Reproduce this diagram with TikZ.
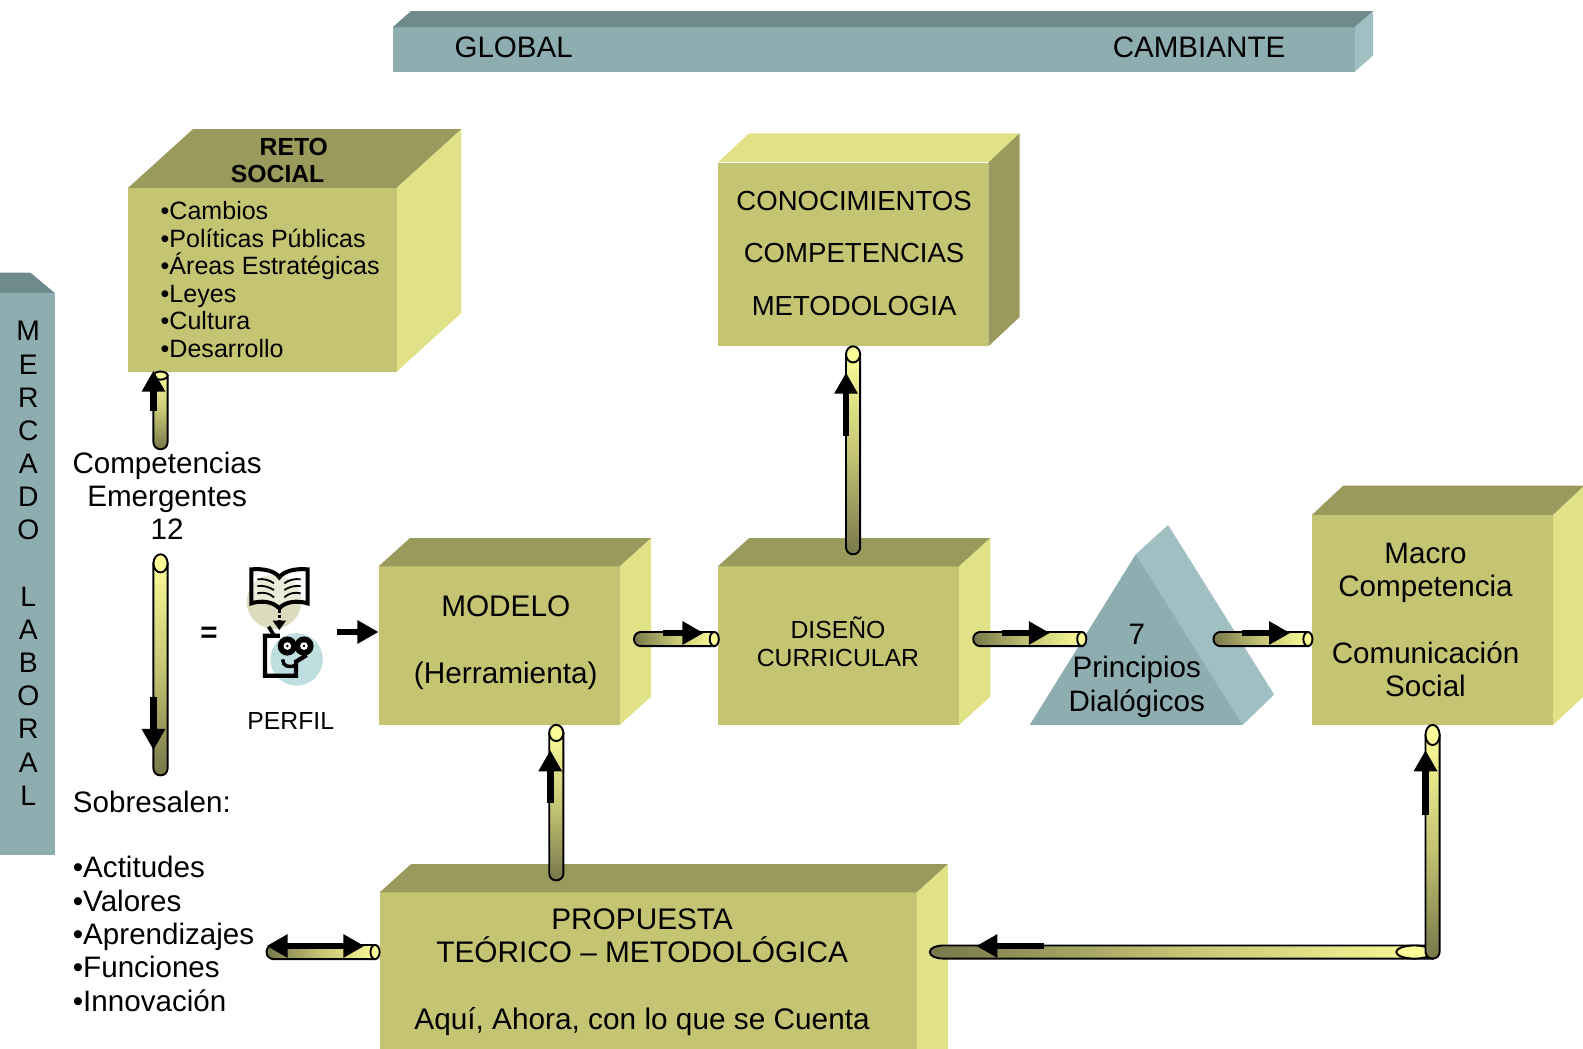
\documentclass[tikz,border=0pt]{standalone}
\usepackage{fontspec}
\setmainfont{Liberation Sans}
\usetikzlibrary{calc,arrows.meta}
\definecolor{ofront}{HTML}{C4C473}
\definecolor{otop}{HTML}{9A9A5C}
\definecolor{oside}{HTML}{E1E187}
\definecolor{bfront}{HTML}{8EADB0}
\definecolor{btop}{HTML}{6F8A8D}
\definecolor{bside}{HTML}{A0BFC2}
\definecolor{tdark}{HTML}{77774A}
\definecolor{tmid}{HTML}{C4C474}
\definecolor{tlight}{HTML}{FBFB98}
\definecolor{iconbeige}{HTML}{DCDBBD}
\definecolor{iconblue}{HTML}{BFDEDF}
\newcommand\fs[2]{\fontsize{#1pt}{#2pt}\selectfont}
\tikzset{
  frontface/.style={inner sep=0pt,outer sep=0pt,fill=#1},
  label29/.style={inner sep=0pt,align=center,font=\fs{29.3}{33},text=black},
  labelleft/.style={inner sep=0pt,align=left,anchor=west,font=\fs{29.3}{33},text=black},
  tubeline/.style={draw=black,line width=1.9pt},
  blk/.style={line width=6.5pt,draw=black,-{Triangle[length=21pt,width=22pt]}},
  blkboth/.style={line width=6.5pt,draw=black,{Triangle[length=21pt,width=22pt]}-{Triangle[length=21pt,width=22pt]}}
}
% top / side faces of a box from the named front node
\newcommand\cubefaces[5]{%
  \fill[#4] (#1.north west) -- ($(#1.north west)+(#2,#3)$) -- ($(#1.north east)+(#2,#3)$) -- (#1.north east) -- cycle;
  \fill[#5] (#1.north east) -- ($(#1.north east)+(#2,#3)$) -- ($(#1.south east)+(#2,#3)$) -- (#1.south east) -- cycle;
}
% vertical tube: light end, dark end, ellipse radius; light at top
\newcommand\vtube[3]{%
  \draw[tubeline,top color=tlight,bottom color=tdark,middle color=tmid]
    ($(#1)+(-7,#3)$) [rounded corners=6.8pt] -- ($(#2)+(-7,0)$) -- ($(#2)+(7,0)$) [sharp corners] -- ($(#1)+(7,#3)$) -- cycle;
  \draw[tubeline,fill=tlight] ($(#1)+(0,#3)$) ellipse [x radius=7pt,y radius=#3pt];
}
% horizontal tube: dark end, light end; light on the right
\newcommand\htube[2]{%
  \draw[tubeline,left color=tdark,right color=tlight,middle color=tmid]
    ($(#2)+(-4.5,-7)$) [rounded corners=6.8pt] -- ($(#1)+(0,-7)$) -- ($(#1)+(0,7)$) [sharp corners] -- ($(#2)+(-4.5,7)$) -- cycle;
  \draw[tubeline,fill=tlight] ($(#2)+(-4.5,0)$) ellipse [x radius=4.5pt,y radius=7pt];
}
\begin{document}
\begin{tikzpicture}[x=1pt,y=-1pt]
\useasboundingbox (0,0) rectangle (1568,1039);
\clip (0,0) rectangle (1568,1039);

% ---- bars ----
\node[frontface=bfront,minimum width=953pt,minimum height=44pt] (barra) at (865.5,49) {};
\cubefaces{barra}{18}{-16}{btop}{bside}
\node[frontface=bfront,minimum width=54pt,minimum height=557pt] (mercado) at (27,568.5) {};
\fill[btop] (0,290) -- (0,270) -- (30,270) -- (54,290) -- cycle;

% ---- boxes ----
\node[frontface=ofront,minimum width=266pt,minimum height=182pt] (reto) at (260,277) {};
\cubefaces{reto}{64}{-58}{otop}{oside}
\node[frontface=ofront,minimum width=268pt,minimum height=182pt] (conoc) at (845,252) {};
\cubefaces{conoc}{31}{-29}{oside}{otop}
\draw[white,line width=1pt] (conoc.north west) -- (conoc.north east);
\node[frontface=ofront,minimum width=239pt,minimum height=157pt] (modelo) at (494.5,639.5) {};
\cubefaces{modelo}{31}{-28}{otop}{oside}
\node[frontface=ofront,minimum width=239pt,minimum height=157pt] (diseno) at (830.5,639.5) {};
\cubefaces{diseno}{31}{-28}{otop}{oside}
\node[frontface=ofront,minimum width=239pt,minimum height=208pt] (macro) at (1419,614) {};
\cubefaces{macro}{31}{-29}{otop}{oside}
\node[frontface=ofront,minimum width=532pt,minimum height=196pt] (propuesta) at (642,982) {};
\cubefaces{propuesta}{31}{-28}{otop}{oside}

% ---- prism ----
\coordinate (pa) at (1125,549);
\coordinate (pb) at (1020,718);
\coordinate (pc) at (1231,718);
\fill[bside] (pa) -- (1157,520) -- (1262,688) -- (pc) -- cycle;
\fill[bfront] (pa) -- (pb) -- (pc) -- cycle;

% ---- icon ----
\begin{scope}[shift={(227.8,534.9)},x=0.3302pt,y=-0.3302pt]
  \fill[iconbeige] (132,185) circle (27pt);
  \fill[iconblue] (200,358) circle (26pt);
  \draw[line width=4pt,line join=miter,fill=white,fill opacity=.45]
    (64,88) .. controls (100,85) and (135,92) .. (148,112) .. controls (162,92) and (198,85) .. (233,88)
    -- (233,190) .. controls (200,180) and (165,185) .. (148,205) .. controls (130,185) and (95,180) .. (64,190) -- cycle;
  \draw[line width=1.8pt] (82,118) .. controls (100,115) and (120,120) .. (132,130);
  \draw[line width=1.8pt] (82,138) .. controls (100,135) and (120,142) .. (132,150);
  \draw[line width=1.8pt] (82,160) .. controls (100,155) and (120,160) .. (132,172);
  \draw[line width=1.8pt] (212,118) .. controls (195,115) and (175,120) .. (163,130);
  \draw[line width=1.8pt] (212,138) .. controls (195,135) and (175,142) .. (163,150);
  \draw[line width=1.8pt] (212,160) .. controls (195,155) and (175,160) .. (163,172);
  \draw[line width=3pt,dash pattern=on 3.5pt off 2pt] (148,207) -- (148,245);
  \fill (128,242) -- (168,242) -- (148,270) -- cycle;
  \draw[line width=4.2pt] (150,287) -- (105,287) -- (105,407) -- (198,407) -- (198,365) -- (230,345);
  \draw[line width=3.6pt] (116,260) -- (132,286);
  \fill (172,318) circle (9.5pt);
  \fill (222,318) circle (9.5pt);
  \fill[white] (172,318) circle (3.8pt);
  \fill[white] (222,318) circle (3.8pt);
  \fill (172,318) circle (1.4pt);
  \fill (222,318) circle (1.4pt);
  \draw[line width=3.4pt] (158,358) .. controls (158,378) and (175,385) .. (198,375);
\end{scope}

% ---- tubes ----
\coordinate (t1a) at (159,368);   \coordinate (t1b) at (159,445);
\coordinate (t2a) at (159,549);   \coordinate (t2b) at (159,768);
\coordinate (t3a) at (845,343);   \coordinate (t3b) at (845,549);
\coordinate (t4a) at (551,718);   \coordinate (t4b) at (551,872);
\coordinate (h1a) at (628,633);   \coordinate (h1b) at (712,633);
\coordinate (h2a) at (964,633);   \coordinate (h2b) at (1076,633);
\coordinate (h3a) at (1202,633);  \coordinate (h3b) at (1300,633);
\coordinate (h4a) at (264,943);   \coordinate (h4b) at (376,943);
\vtube{t1a}{t1b}{4}
\vtube{t2a}{t2b}{9}
\vtube{t3a}{t3b}{8}
\vtube{t4a}{t4b}{8}
\htube{h1a}{h1b}
\htube{h2a}{h2b}
\htube{h3a}{h3b}
\htube{h4a}{h4b}

% long return tube
\coordinate (r1) at (921,943);
\coordinate (r2) at (1419,943);
\coordinate (t5a) at (1419,718);
\coordinate (t5b) at (1419,949.5);
\draw[tubeline,left color=tdark,right color=tlight,middle color=tmid]
  (935,936.5) -- ($(r2)+(0,-6.5)$) -- ($(r2)+(0,6.5)$) -- (935,949.5)
  .. controls (927,949.5) and ($(r1)+(0,4)$) .. (r1) .. controls ($(r1)+(0,-4)$) and (927,936.5) .. (935,936.5) -- cycle;
\draw[tubeline,fill=tlight] (1401,943) ellipse [x radius=18pt,y radius=6.5pt];
\vtube{t5a}{t5b}{10}

% ---- arrows ----
\coordinate (a1s) at (152,407); \coordinate (a1e) at (152,367);
\coordinate (a2s) at (152,690); \coordinate (a2e) at (152,743);
\coordinate (a3s) at (838,432); \coordinate (a3e) at (838,369);
\coordinate (a4s) at (545,795); \coordinate (a4e) at (545,743);
\coordinate (a5s) at (1412,807);\coordinate (a5e) at (1412,743);
\coordinate (a6s) at (657,627); \coordinate (a6e) at (697,627);
\coordinate (a7s) at (992,627); \coordinate (a7e) at (1040,627);
\coordinate (a8s) at (1230,627);\coordinate (a8e) at (1278,627);
\coordinate (a9s) at (264,937); \coordinate (a9e) at (361,937);
\coordinate (a10s) at (1034,937);\coordinate (a10e) at (967,937);
\coordinate (a11s) at (334,626);
\foreach \n in {1,...,8,10} {\draw[blk] (a\n s) -- (a\n e);}
\draw[blkboth] (a9s) -- (a9e);
\draw[blk] (a11s) -- (modelo.west |- a11s);

% ---- texts ----
\node[labelleft] (tglobal) at (450,47) {GLOBAL};
\node[labelleft] (tcambia) at (1102,47) {CAMBIANTE};
\node[label29,font=\fs{28}{32.85}] (tmercado) at (28,558) {M\\E\\R\\C\\A\\D\\O\\[32.85pt]L\\A\\B\\O\\R\\A\\L};
\node[label29,font=\bfseries\fs{24.5}{26}] (tr1) at (291,146) {RETO};
\node[label29,font=\bfseries\fs{24.5}{26}] (tr2) at (275,172) {SOCIAL};
\node[labelleft,font=\fs{24.8}{27.3}] (treto) at (159,277) {•Cambios\\•Políticas Públicas\\•Áreas Estratégicas\\•Leyes\\•Cultura\\•Desarrollo};
\node[label29,font=\fs{27.3}{52}] (tconoc) at (846,251) {CONOCIMIENTOS\\COMPETENCIAS\\METODOLOGIA};
\node[label29] (tcomp) at (165.5,491) {Competencias\\Emergentes\\12};
\node[label29] (teq) at (207,629) {\bfseries =};
\node[label29,font=\fs{24.5}{28}] (tperfil) at (288,714) {PERFIL};
\node[label29,font=\fs{29.5}{66}] (tmodelo) at (501,636.5) {MODELO\\(Herramienta)};
\node[label29,font=\fs{24.5}{28}] (tdiseno) at (830,636) {DISEÑO\\CURRICULAR};
\node[label29] (tprin) at (1126,664.5) {7\\Principios\\Dialógicos};
\node[label29] (tmacro) at (1412,614) {Macro\\Competencia\\[33pt]Comunicación\\Social};
\node[labelleft] (tsob) at (72,794) {Sobresalen:};
\node[labelleft] (tlist) at (72,925) {•Actitudes\\•Valores\\•Aprendizajes\\•Funciones\\•Innovación};
\node[label29,font=\fs{29.5}{33}] (tprop) at (636,963) {PROPUESTA\\TEÓRICO – METODOLÓGICA\\[33pt]Aquí, Ahora, con lo que se Cuenta};
\end{tikzpicture}
\end{document}
